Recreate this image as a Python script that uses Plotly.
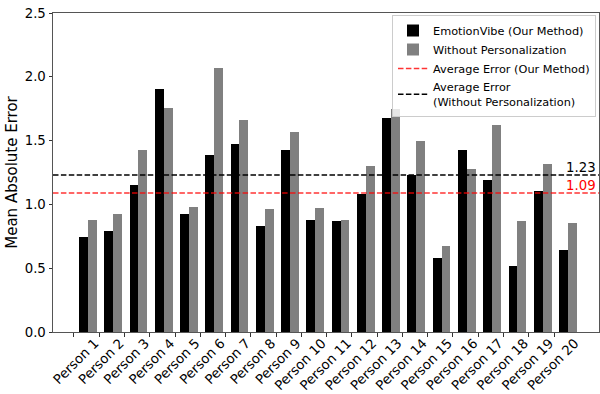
import plotly.graph_objects as go

persons = [f"Person {i}" for i in range(1, 21)]
our_method = [0.745, 0.79, 1.152, 1.904, 0.925, 1.387, 1.473, 0.831, 1.426, 0.878,
              0.87, 1.082, 1.677, 1.23, 0.58, 1.426, 1.191, 0.517, 1.105, 0.643]
without_pers = [0.878, 0.925, 1.426, 1.755, 0.98, 2.069, 1.661, 0.964, 1.567, 0.972,
                0.878, 1.301, 1.748, 1.497, 0.674, 1.277, 1.622, 0.87, 1.317, 0.854]
avg_our = 1.09
avg_without = 1.23

idx = list(range(len(persons)))
W = 0.35
XMIN, XMAX = -0.83, 20.78
FONT = "DejaVu Sans"
TICK = 13.3

fig = go.Figure()
fig.add_trace(go.Bar(x=[i + 0.375 for i in idx], y=our_method, width=W,
                     marker=dict(color="black", line=dict(width=0)),
                     name="EmotionVibe (Our Method)"))
fig.add_trace(go.Bar(x=[i + 0.725 for i in idx], y=without_pers, width=W,
                     marker=dict(color="#808080", line=dict(width=0)),
                     name="Without Personalization"))
fig.add_trace(go.Scatter(x=[XMIN, XMAX], y=[avg_our, avg_our], mode="lines",
                         line=dict(color="rgba(255,0,0,0.8)", width=1.5, dash="5.5px,2.4px"),
                         name="Average Error (Our Method)"))
fig.add_trace(go.Scatter(x=[XMIN, XMAX], y=[avg_without, avg_without], mode="lines",
                         line=dict(color="black", width=1.5, dash="5.5px,2.4px"),
                         name="Average Error<br>(Without Personalization)"))
# invisible trace for label axis
fig.add_trace(go.Scatter(x=[XMIN], y=[0], xaxis="x2", mode="markers",
                         marker=dict(opacity=0), showlegend=False, hoverinfo="skip"))

fig.add_annotation(x=XMAX, y=avg_without, xref="x", yref="y", text=f"{avg_without:.2f}",
                   showarrow=False, xanchor="right", yanchor="bottom", xshift=-1, yshift=-2,
                   font=dict(family=FONT, size=TICK, color="black"))
fig.add_annotation(x=XMAX, y=avg_our, xref="x", yref="y", text=f"{avg_our:.2f}",
                   showarrow=False, xanchor="right", yanchor="bottom", xshift=-1, yshift=-2,
                   font=dict(family=FONT, size=TICK, color="red"))

fig.update_layout(
    width=600, height=394,
    margin=dict(l=53, r=1, t=13, b=62, autoexpand=False),
    plot_bgcolor="white", paper_bgcolor="white",
    barmode="overlay", bargap=0,
    font=dict(family=FONT, size=TICK, color="black"),
    xaxis=dict(range=[XMIN, XMAX], tickvals=idx, showticklabels=False, automargin=False,
               ticks="outside", ticklen=3.5, tickcolor="#333", showgrid=False,
               zeroline=False, showline=True, linecolor="#555", linewidth=1, mirror=True),
    xaxis2=dict(range=[XMIN, XMAX], overlaying="x", anchor="y", side="bottom", automargin=False,
                tickvals=[i + 0.82 for i in idx], ticktext=persons, tickangle=-45,
                ticks="", ticklabelstandoff=0, showgrid=False, zeroline=False, showline=False,
                tickfont=dict(family=FONT, size=TICK)),
    yaxis=dict(range=[0, 2.5], tickvals=[0, 0.5, 1.0, 1.5, 2.0, 2.5], automargin=False,
               ticktext=["0.0", "0.5", "1.0", "1.5", "2.0", "2.5"],
               ticks="outside", ticklen=3.5, tickcolor="#333", showgrid=False,
               zeroline=False, showline=True, linecolor="#555", linewidth=1, mirror=True,
               title=dict(text="Mean Absolute Error", font=dict(family=FONT, size=15), standoff=3),
               tickfont=dict(family=FONT, size=TICK)),
    legend=dict(x=0.9945, y=0.9937, xanchor="right", yanchor="top",
                bgcolor="rgba(255,255,255,0.8)", bordercolor="#cccccc", borderwidth=1,
                font=dict(family=FONT, size=11.3), traceorder="normal"),
    showlegend=True,
)

fig.write_html("out.html", config={"displayModeBar": False},
               post_script="document.body.style.margin='0';document.body.style.overflow='hidden';")
